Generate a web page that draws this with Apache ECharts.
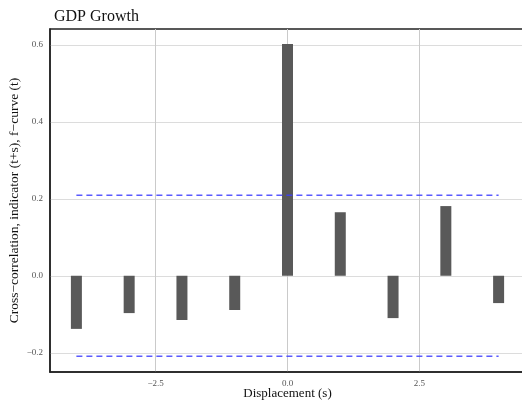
<!DOCTYPE html>
<html>
<head>
<meta charset="utf-8">
<script src="https://cdn.jsdelivr.net/npm/echarts@6/dist/echarts.min.js"></script>
<style>
  html, body { margin: 0; padding: 0; background: #fff; }
  #chart { width: 522px; height: 403px; }
</style>
</head>
<body>
<div id="chart"></div>
<script>
// Cross-correlation of the indicator against the reference curve, by displacement
const displacements = [-4, -3, -2, -1, 0, 1, 2, 3, 4];
const correlations = [-0.138, -0.097, -0.115, -0.089, 0.602, 0.165, -0.110, 0.181, -0.071];
// Confidence band bounds
const upperBound = 0.209;
const lowerBound = -0.209;
const bandFrom = -4;
const bandTo = 4;
// Tick positions
const xTicks = [-2.5, 0, 2.5];
const yTicks = [-0.2, 0, 0.2, 0.4, 0.6];

const serif = '"Liberation Serif", "DejaVu Serif", serif';
const fmt = v => Number(v).toFixed(1).replace('-', '\u2212');

const chart = echarts.init(document.getElementById('chart'), null, { renderer: 'canvas' });

chart.setOption({
  animation: false,
  backgroundColor: '#ffffff',
  title: {
    text: 'GDP Growth',
    left: 49,
    top: 4,
    textStyle: { fontFamily: serif, fontSize: 16, fontWeight: 'normal', color: '#111' }
  },
  grid: {
    left: 50, right: -3, top: 29, bottom: 31,
    outerBoundsMode: 'none',
    containLabel: false,
    show: true, borderColor: '#222', borderWidth: 1.5, backgroundColor: 'transparent'
  },
  xAxis: {
    type: 'value',
    min: -4.5, max: 4.5,
    name: 'Displacement (s)',
    nameLocation: 'middle',
    nameGap: 15,
    nameMoveOverlap: false,
    nameTextStyle: { fontFamily: serif, fontSize: 13, color: '#111' },
    axisLine: { show: true, onZero: false, lineStyle: { color: '#222', width: 1.5 } },
    axisTick: { show: false, customValues: xTicks },
    axisLabel: {
      customValues: xTicks, formatter: fmt, margin: 7,
      fontFamily: serif, fontSize: 9, color: '#555'
    },
    splitLine: { show: true, lineStyle: { color: '#cacaca', width: 1 } }
  },
  yAxis: {
    type: 'value',
    min: -0.25, max: 0.641,
    name: 'Cross\u2212correlation, indicator (t+s), f\u2212curve (t)',
    nameLocation: 'middle',
    nameGap: 29,
    nameMoveOverlap: false,
    nameTextStyle: { fontFamily: serif, fontSize: 13.5, color: '#111' },
    axisLine: { show: true, onZero: false, lineStyle: { color: '#222', width: 1.5 } },
    axisTick: { show: false, customValues: yTicks },
    axisLabel: {
      customValues: yTicks, formatter: fmt, margin: 7,
      fontFamily: serif, fontSize: 9, color: '#555'
    },
    splitLine: { show: true, lineStyle: { color: '#dcdcdc', width: 1.2 } }
  },
  series: [
    {
      type: 'bar',
      data: displacements.map((d, i) => [d, correlations[i]]),
      barWidth: 11,
      itemStyle: { color: '#595959' },
      z: 3
    },
    {
      type: 'line',
      data: [[bandFrom, upperBound], [bandTo, upperBound]],
      symbol: 'none',
      lineStyle: { color: '#3d3dff', width: 1.4, type: [6, 4], opacity: 0.85 },
      z: 4
    },
    {
      type: 'line',
      data: [[bandFrom, lowerBound], [bandTo, lowerBound]],
      symbol: 'none',
      lineStyle: { color: '#3d3dff', width: 1.4, type: [6, 4], opacity: 0.85 },
      z: 4
    }
  ]
});
</script>
</body>
</html>
